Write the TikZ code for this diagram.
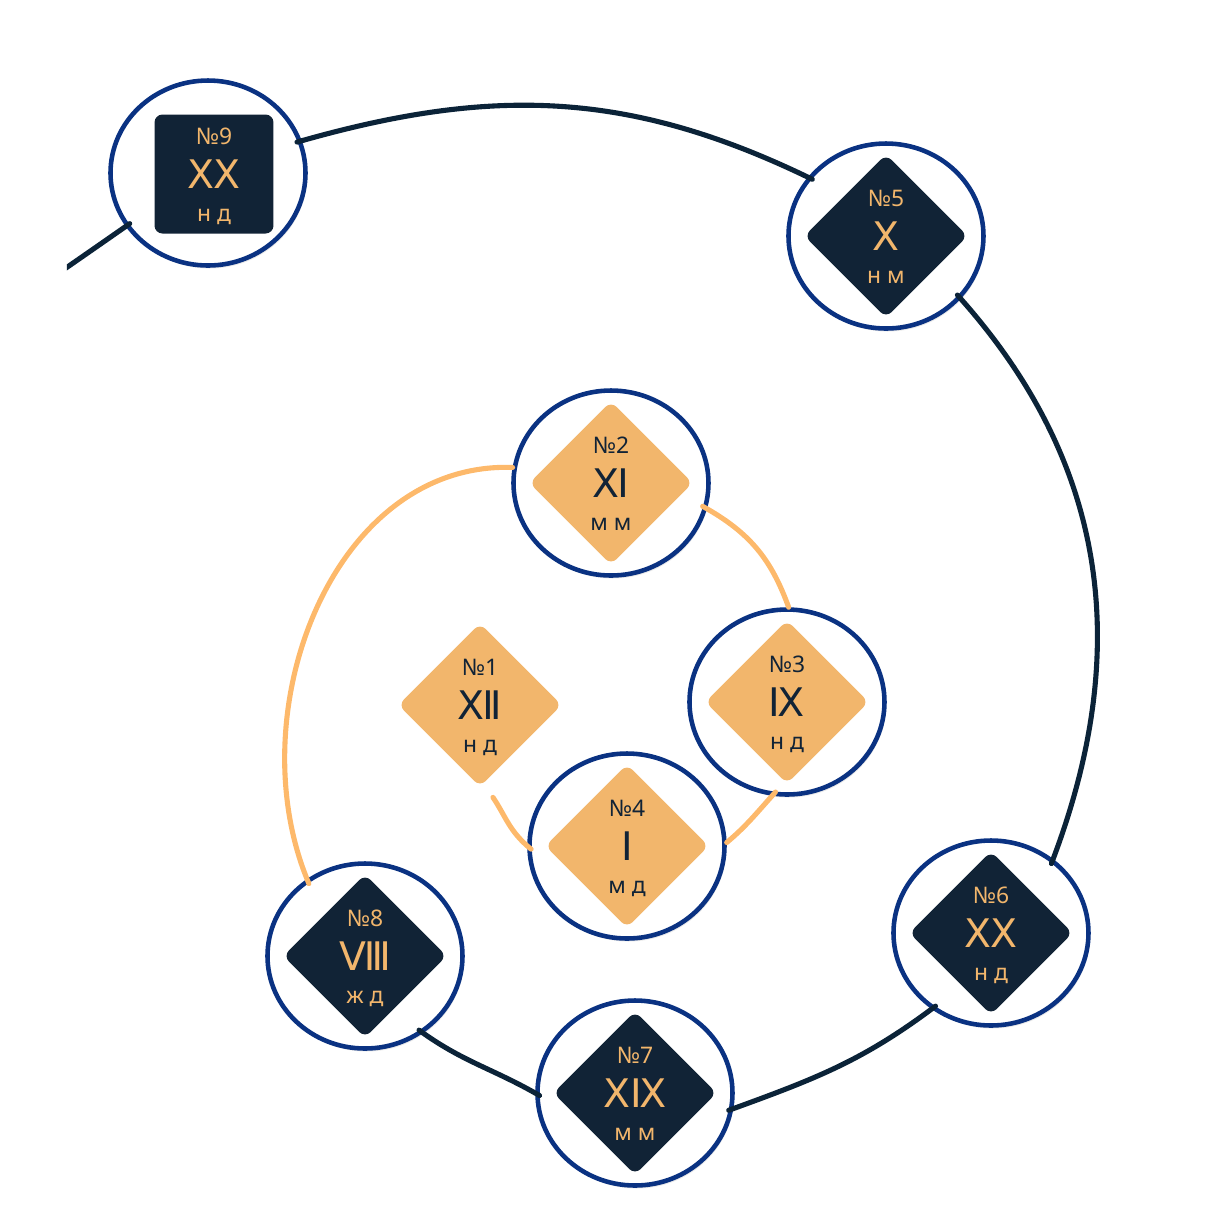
\documentclass[tikz,border=0pt]{standalone}
\usepackage{fontspec}
\setmainfont{Noto Sans}
\newfontfamily\romfont{DejaVu Sans}
\usetikzlibrary{shapes.geometric,shadows}
\definecolor{ringblue}{HTML}{0A3282}
\definecolor{navy}{HTML}{112336}
\definecolor{gold}{HTML}{F2B66C}
\definecolor{goldline}{HTML}{FDB96B}
\definecolor{navyline}{HTML}{0B2338}
\newcommand{\numsize}{\fontsize{6.5}{7}\selectfont}
\newcommand{\romsize}{\romfont\fontsize{11.2}{12}\selectfont}
\tikzset{
  ring/.style={ellipse, draw=ringblue, line width=1.3pt, fill=white, minimum width=19.5mm, minimum height=18.5mm, inner sep=0pt,
    drop shadow={shadow xshift=0.15mm, shadow yshift=-0.3mm, opacity=0.18}},
  ghost/.style={ellipse, minimum width=19.5mm, minimum height=18.5mm, inner sep=0pt},
  gem/.style={diamond, rounded corners=0.8mm, minimum width=16.4mm, minimum height=16.4mm, inner sep=0pt},
  tile/.style={rectangle, rounded corners=0.8mm, minimum size=11.9mm, inner sep=0pt},
  numtxt/.style={anchor=base, inner sep=0pt, font=\numsize},
  romtxt/.style={anchor=base, inner sep=0pt, font=\romsize},
  goldpath/.style={draw=goldline, line width=1.45pt, line cap=round, shorten >=-0.5mm},
  navypath/.style={draw=navyline, line width=1.45pt, line cap=round, shorten >=-0.5mm, shorten <=-0.5mm},
}

\begin{document}
\begin{tikzpicture}[x=0.1mm, y=-0.1mm]
\useasboundingbox (0,0) rectangle (1230,1230);

% stations
\node[ghost] (n1) at (480,705) {};
\node[ring]  (n2) at (611,483) {};
\node[ring]  (n3) at (787,702) {};
\node[ring]  (n4) at (627,846) {};
\node[ring]  (n5) at (886,236) {};
\node[ring]  (n6) at (991,933) {};
\node[ring]  (n7) at (635,1093) {};
\node[ring]  (n8) at (365,956) {};
\node[ring]  (n9) at (208,173) {};

\node[gem, fill=gold] (d1) at (n1) {};
\node[gem, fill=gold] (d2) at (n2) {};
\node[gem, fill=gold] (d3) at (n3) {};
\node[gem, fill=gold] (d4) at (n4) {};
\node[gem, fill=navy] (d5) at (n5) {};
\node[gem, fill=navy] (d6) at (n6) {};
\node[gem, fill=navy] (d7) at (n7) {};
\node[gem, fill=navy] (d8) at (n8) {};
\node[tile, fill=navy] (d9) at (214,174) {};

% labels
\node[numtxt, text=navy] at ([yshift=3mm]d1.center) {№1};
\node[romtxt, text=navy] at ([yshift=-1.4mm]d1.center) {Ⅻ};
\node[numtxt, text=navy] at ([yshift=-4.7mm]d1.center) {н д};

\node[numtxt, text=navy] at ([yshift=3mm]d2.center) {№2};
\node[romtxt, text=navy] at ([yshift=-1.4mm]d2.center) {Ⅺ};
\node[numtxt, text=navy] at ([yshift=-4.7mm]d2.center) {м м};

\node[numtxt, text=navy] at ([yshift=3mm]d3.center) {№3};
\node[romtxt, text=navy] at ([yshift=-1.4mm]d3.center) {Ⅸ};
\node[numtxt, text=navy] at ([yshift=-4.7mm]d3.center) {н д};

\node[numtxt, text=navy] at ([yshift=3mm]d4.center) {№4};
\node[romtxt, text=navy] at ([yshift=-1.4mm]d4.center) {Ⅰ};
\node[numtxt, text=navy] at ([yshift=-4.7mm]d4.center) {м д};

\node[numtxt, text=gold] at ([yshift=3mm]d5.center) {№5};
\node[romtxt, text=gold] at ([yshift=-1.4mm]d5.center) {Ⅹ};
\node[numtxt, text=gold] at ([yshift=-4.7mm]d5.center) {н м};

\node[numtxt, text=gold] at ([yshift=3mm]d6.center) {№6};
\node[romtxt, text=gold] at ([yshift=-1.4mm]d6.center) {ⅩⅩ};
\node[numtxt, text=gold] at ([yshift=-4.7mm]d6.center) {н д};

\node[numtxt, text=gold] at ([yshift=3mm]d7.center) {№7};
\node[romtxt, text=gold] at ([yshift=-1.4mm]d7.center) {ⅩⅨ};
\node[numtxt, text=gold] at ([yshift=-4.7mm]d7.center) {м м};

\node[numtxt, text=gold] at ([yshift=3mm]d8.center) {№8};
\node[romtxt, text=gold] at ([yshift=-1.4mm]d8.center) {Ⅷ};
\node[numtxt, text=gold] at ([yshift=-4.7mm]d8.center) {ж д};

\node[numtxt, text=gold] at ([yshift=3mm]d9.center) {№9};
\node[romtxt, text=gold] at ([yshift=-1.4mm]d9.center) {ⅩⅩ};
\node[numtxt, text=gold] at ([yshift=-4.7mm]d9.center) {н д};

% spiral
\draw[goldpath] (n1.-82) to[out=-56, in=141] (n4.180);
\draw[goldpath] (n4.2) to[out=40, in=-132] (n3.-99);
\draw[goldpath] (n3.89) to[out=110, in=-29] (n2.-15);
\draw[goldpath] (n2.171) to[out=178, in=113] (n8.127);
\draw[navypath] (n8.-53) to[out=-36, in=150] (n7.180);
\draw[navypath] (n7.-9) to[out=20, in=-143] (n6.-128);
\draw[navypath] (n6.50) to[out=69, in=-48] (n5.-40);
\draw[navypath] (n5.143) to[out=154, in=16] (n9.19);
\coordinate (tail) at (20,300);
\begin{scope}
\clip (67,0) rectangle (1230,1230);
\draw[navypath] (n9.213) to[out=215, in=35] (tail);
\end{scope}
\end{tikzpicture}
\end{document}
